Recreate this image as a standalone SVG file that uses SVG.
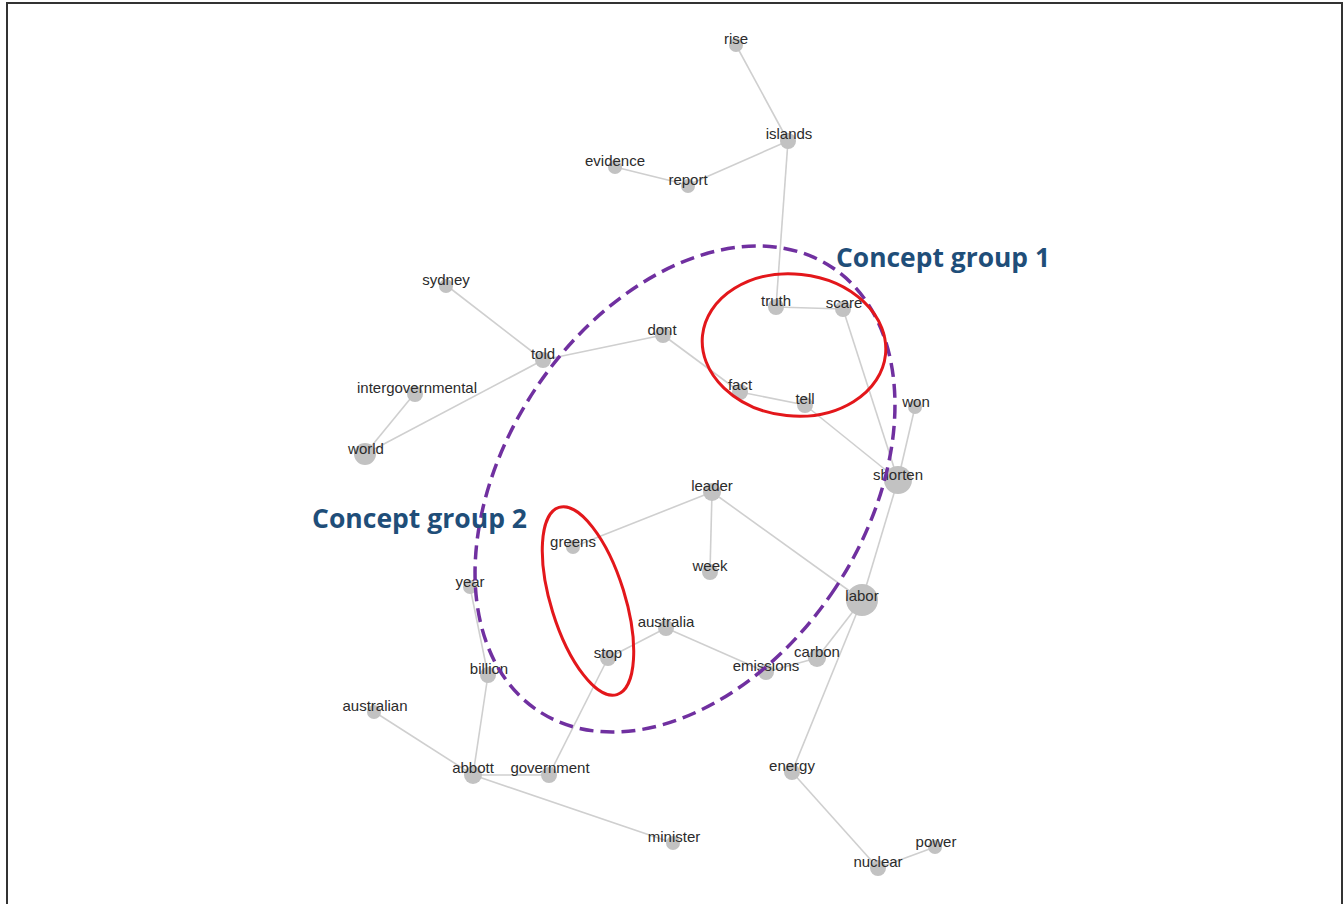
<svg xmlns="http://www.w3.org/2000/svg" width="1344" height="904" viewBox="0 0 1344 904">
  <style>
    .edge { stroke: #cfcfcf; stroke-width: 1.6; fill: none; }
    .dot { fill: #c2c2c2; }
    .lbl { font-family: "Liberation Sans", Arial, sans-serif; font-size: 15px; fill: #2b2b2b; text-anchor: middle; }
    .title { font-family: "Open Sans", "Liberation Sans", sans-serif; font-weight: bold; font-size: 26px; fill: #1f4e79; }
    .grp { fill: none; stroke: #e3171b; stroke-width: 3; }
    .hull { fill: none; stroke: #7030a0; stroke-width: 3.5; stroke-dasharray: 14 7; }
  </style>
  <rect x="0" y="0" width="1344" height="904" fill="#ffffff"/>
  <rect x="7" y="3" width="1335" height="920" fill="none" stroke="#333" stroke-width="2"/>

  <!-- connectors -->
  <g id="edges">
    <line class="edge" x1="736" y1="45" x2="788" y2="141"/>
    <line class="edge" x1="788" y1="141" x2="688" y2="185"/>
    <line class="edge" x1="688" y1="185" x2="615" y2="167"/>
    <line class="edge" x1="788" y1="141" x2="776" y2="307"/>
    <line class="edge" x1="776" y1="307" x2="843" y2="309"/>
    <line class="edge" x1="446" y1="285" x2="543" y2="360"/>
    <line class="edge" x1="543" y1="360" x2="663" y2="335"/>
    <line class="edge" x1="543" y1="360" x2="365" y2="454"/>
    <line class="edge" x1="415" y1="393" x2="365" y2="454"/>
    <line class="edge" x1="663" y1="335" x2="740" y2="392"/>
    <line class="edge" x1="740" y1="392" x2="805" y2="405"/>
    <line class="edge" x1="805" y1="405" x2="898" y2="480"/>
    <line class="edge" x1="843" y1="309" x2="898" y2="480"/>
    <line class="edge" x1="915" y1="407" x2="898" y2="480"/>
    <line class="edge" x1="898" y1="480" x2="862" y2="600"/>
    <line class="edge" x1="862" y1="600" x2="792" y2="772"/>
    <line class="edge" x1="862" y1="600" x2="817" y2="658"/>
    <line class="edge" x1="712" y1="492" x2="862" y2="600"/>
    <line class="edge" x1="712" y1="492" x2="710" y2="572"/>
    <line class="edge" x1="712" y1="492" x2="573" y2="547"/>
    <line class="edge" x1="666" y1="628" x2="608" y2="658"/>
    <line class="edge" x1="666" y1="628" x2="766" y2="672"/>
    <line class="edge" x1="766" y1="672" x2="817" y2="658"/>
    <line class="edge" x1="608" y1="658" x2="549" y2="775"/>
    <line class="edge" x1="470" y1="587" x2="488" y2="675"/>
    <line class="edge" x1="488" y1="675" x2="473" y2="775"/>
    <line class="edge" x1="373" y1="711" x2="473" y2="775"/>
    <line class="edge" x1="473" y1="775" x2="549" y2="775"/>
    <line class="edge" x1="473" y1="775" x2="673" y2="843"/>
    <line class="edge" x1="792" y1="772" x2="878" y2="868"/>
    <line class="edge" x1="878" y1="868" x2="935" y2="847"/>
  </g>

  <!-- nodes -->
  <g id="n-rise"><circle class="dot" cx="736" cy="45" r="7"/><text class="lbl" x="736" y="44">rise</text></g>
  <g id="n-islands"><circle class="dot" cx="788" cy="141" r="8"/><text class="lbl" x="789" y="139">islands</text></g>
  <g id="n-evidence"><circle class="dot" cx="615" cy="167" r="7"/><text class="lbl" x="615" y="166">evidence</text></g>
  <g id="n-report"><circle class="dot" cx="688" cy="186" r="7"/><text class="lbl" x="688" y="185">report</text></g>
  <g id="n-sydney"><circle class="dot" cx="446" cy="286" r="7"/><text class="lbl" x="446" y="285">sydney</text></g>
  <g id="n-told"><circle class="dot" cx="543" cy="360" r="8"/><text class="lbl" x="543" y="359">told</text></g>
  <g id="n-dont"><circle class="dot" cx="663" cy="335" r="8"/><text class="lbl" x="662" y="335">dont</text></g>
  <g id="n-intergovernmental"><circle class="dot" cx="415" cy="394" r="8"/><text class="lbl" x="417" y="393">intergovernmental</text></g>
  <g id="n-world"><circle class="dot" cx="365" cy="454" r="11"/><text class="lbl" x="366" y="454">world</text></g>
  <g id="n-truth"><circle class="dot" cx="776" cy="307" r="8"/><text class="lbl" x="776" y="306">truth</text></g>
  <g id="n-scare"><circle class="dot" cx="843" cy="309" r="8"/><text class="lbl" x="844" y="308">scare</text></g>
  <g id="n-fact"><circle class="dot" cx="740" cy="392" r="8"/><text class="lbl" x="740" y="390">fact</text></g>
  <g id="n-tell"><circle class="dot" cx="805" cy="405" r="8"/><text class="lbl" x="805" y="404">tell</text></g>
  <g id="n-won"><circle class="dot" cx="915" cy="407" r="7"/><text class="lbl" x="916" y="407">won</text></g>
  <g id="n-shorten"><circle class="dot" cx="898" cy="480" r="14"/><text class="lbl" x="898" y="480">shorten</text></g>
  <g id="n-leader"><circle class="dot" cx="712" cy="492" r="9"/><text class="lbl" x="712" y="491">leader</text></g>
  <g id="n-week"><circle class="dot" cx="710" cy="572" r="8"/><text class="lbl" x="710" y="571">week</text></g>
  <g id="n-labor"><circle class="dot" cx="862" cy="600" r="16"/><text class="lbl" x="862" y="601">labor</text></g>
  <g id="n-greens"><circle class="dot" cx="573" cy="547" r="7"/><text class="lbl" x="573" y="547">greens</text></g>
  <g id="n-year"><circle class="dot" cx="470" cy="587" r="7"/><text class="lbl" x="470" y="587">year</text></g>
  <g id="n-australia"><circle class="dot" cx="666" cy="628" r="8"/><text class="lbl" x="666" y="627">australia</text></g>
  <g id="n-stop"><circle class="dot" cx="608" cy="658" r="8"/><text class="lbl" x="608" y="658">stop</text></g>
  <g id="n-billion"><circle class="dot" cx="488" cy="675" r="8"/><text class="lbl" x="489" y="674">billion</text></g>
  <g id="n-emissions"><circle class="dot" cx="766" cy="672" r="8"/><text class="lbl" x="766" y="671">emissions</text></g>
  <g id="n-carbon"><circle class="dot" cx="817" cy="658" r="9"/><text class="lbl" x="817" y="657">carbon</text></g>
  <g id="n-australian"><circle class="dot" cx="374" cy="712" r="7"/><text class="lbl" x="375" y="711">australian</text></g>
  <g id="n-abbott"><circle class="dot" cx="473" cy="775" r="9"/><text class="lbl" x="473" y="773">abbott</text></g>
  <g id="n-government"><circle class="dot" cx="549" cy="775" r="8"/><text class="lbl" x="550" y="773">government</text></g>
  <g id="n-minister"><circle class="dot" cx="673" cy="843" r="7"/><text class="lbl" x="674" y="842">minister</text></g>
  <g id="n-energy"><circle class="dot" cx="792" cy="772" r="8"/><text class="lbl" x="792" y="771">energy</text></g>
  <g id="n-nuclear"><circle class="dot" cx="878" cy="868" r="8"/><text class="lbl" x="878" y="867">nuclear</text></g>
  <g id="n-power"><circle class="dot" cx="935" cy="847" r="7"/><text class="lbl" x="936" y="847">power</text></g>

  <!-- concept groupings -->
  <g id="groups">
    <ellipse class="hull" cx="685" cy="489" rx="180" ry="266" transform="rotate(33.5 685 489)"/>
    <ellipse class="grp" cx="794" cy="345" rx="92" ry="71" transform="rotate(6 794 345)"/>
    <ellipse class="grp" cx="588" cy="601" rx="37" ry="98" transform="rotate(-17.2 588 601)"/>
    <text class="title" x="836" y="267" textLength="214" lengthAdjust="spacingAndGlyphs">Concept group 1</text>
    <text class="title" x="312" y="528" textLength="215" lengthAdjust="spacingAndGlyphs">Concept group 2</text>
  </g>
</svg>
